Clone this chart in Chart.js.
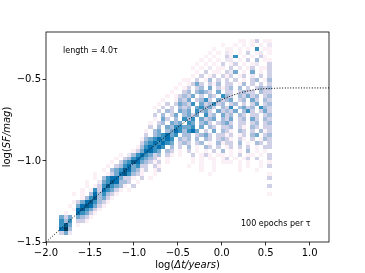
<!DOCTYPE html>
<html>
<head>
<meta charset="utf-8">
<script src="https://cdn.jsdelivr.net/npm/chart.js@4.4.0/dist/chart.umd.min.js"></script>
<style>
	html, body { margin: 0; padding: 0; background: #fff; }
	canvas { display: block; }
</style>
</head>
<body>
<canvas id="mycanvas" width="365" height="273"></canvas>
<script>
// axis ranges and ticks
var xRange = [-2.0, 1.22];
var yRange = [-1.5, -0.205];
var xTicks = [-2.0, -1.5, -1.0, -0.5, 0.0, 0.5, 1.0];
var yTicks = [-1.5, -1.0, -0.5];

// 2d histogram, 50 x 50 bins, rows top -> bottom, 1..9 = colour level, '.' = empty
var binX0 = -1.849, binW = 0.0483;
var binYTop = -0.247, binH = 0.0242;
var counts = [
	".......... .......... .......... .......... ..11.13.11",
	".......... .......... .......... ........1. .1.1.1.1.2",
	".......... .......... .......... ......1..1 1.1.1.6.11",
	".......... .......... .......... .....1.1.2 1.1.3.12.1",
	".......... .......... .......... ....1.1..3 16.1.1.31.",
	".......... .......... .......... ...1.1.1.2 2.1.3.4.11",
	".......... .......... .......... ..1.1.1.3. 13.1.12..3",
	".......... .......... .......... .1.1.2.11. 3.2.13.113",
	".......... .......... .......... ..1.3.11.3 25.1.5.1.3",
	".......... .......... .......... .1.3.13.31 3.13.2.3.3",
	".......... .......... .........1 1.3.14.3.3 .3.1.34.14",
	".......... .......... ........1. 1353.314.3 3.14.3.3.3",
	".......... .......... .......1.1 3.34.5.313 4.4.3.3434",
	".......... .......... ......1..3 4.4543.5.3 3.3433.433",
	".......... .......... .....1.134 35.3.43.64 3.43534.34",
	".......... .......... ....1..143 5.3463.534 5.34.53.43",
	".......... .......... ...1.3.354 36.534634. 34.3.35.34",
	".......... .......... ..1.3.3.43 4.56453.43 6.4534.643",
	".......... .......... ...3.43.54 5.6453.534 35.463.353",
	".......... .......... ..3.4.35.4 535.634.53 4.43.33.34",
	".......... .......... ..1.53.4.6 46.5345.43 5.34.53.43",
	".......... .......... .1.34.545. 65.453.345 3.33.34.34",
	".......... .......... .3.4.54665 56.5.43.33 4.31.43.33",
	".......... .......... 1.45.45764 675.3.5.43 1.43.3.413",
	".......... .......... 3.456756.4 4.3453.331 3.13.45.34",
	".......... .........1 4567676.43 4.4.43.343 1.31.3.143",
	".......... .........3 5676765.34 3.34.1.413 3.4.1.43.3",
	".......... ........14 67676.4.3. 4.1.43.3.1 3.3.3.1.33",
	".......... .......135 7765.43.1. 3.1.1.3.4. 1.1.4.1.1.",
	".......... ....1.2467 6534.31.1. .3.131.11. 1.3.11.1.3",
	".......... ...1.34676 5431.1.... .1.1.11.13 .1.13.3..3",
	".......... ..1.356875 4313.1.... .1.1..1.11 1.1.1..1.1",
	".......... .1.3467563 3.31...... 1..1..1... ..1.1..1.3",
	".......... 1.45687541 3.13...... ...1..1... ..1...1...",
	"........1. .135786431 ..1....... .....1.... .........1",
	"........1. 46775331.3 .1........ .......... .........3",
	"......1..2 5687443.1. .......... .......... ..........",
	"......1.13 686541.3.. .......... .......... .........3",
	".....1.163 76531.1... .......... .......... ..........",
	"...1.1.474 6431...... .......... .......... .........1",
	".....14684 531....... .......... .......... ..........",
	"...1357864 31........ .......... .......... ..........",
	"..1.578753 1......... .......... .......... ..........",
	"...1786531 .......... .......... .......... ..........",
	".1..76531. .......... .......... .......... ..........",
	"535.5431.. .......... .......... .......... ..........",
	"646.331... .......... .......... .......... ..........",
	"685.1..... .......... .......... .......... ..........",
	"794....... .......... .......... .......... ..........",
	"352....... .......... .......... .......... .........."
];

// model structure function (dotted line)
var curveX = [-2.0, -1.8, -1.6, -1.4, -1.2, -1.0, -0.8, -0.6, -0.5, -0.4, -0.3, -0.2, -0.1, 0.0, 0.1, 0.2, 0.3, 0.4, 0.6, 0.8, 1.0, 1.22];
var curveY = [-1.501, -1.402, -1.303, -1.205, -1.108, -1.014, -0.921, -0.833, -0.792, -0.752, -0.715, -0.680, -0.650, -0.623, -0.600, -0.582, -0.568, -0.559, -0.552, -0.550, -0.550, -0.550];

var levels = ['#ffffff', '#fcf0f7', '#ece7f2', '#d0d1e6', '#a6bddb', '#74a9cf', '#3690c0', '#0570b0', '#045a8d', '#023858'];

function fmt(v) {
	return v.toFixed(1).replace('-', '\u2212');
}

var curvePts = [];
for (var k = 0; k < curveX.length; k++) {
	curvePts.push({x: curveX[k], y: curveY[k]});
}

var histPlugin = {
	id: 'hist',
	beforeDatasetsDraw: function(chart) {
		var ctx = chart.ctx, xs = chart.scales.x, ys = chart.scales.y, a = chart.chartArea;
		ctx.save();
		ctx.beginPath();
		ctx.rect(a.left, a.top, a.right - a.left, a.bottom - a.top);
		ctx.clip();
		for (var r = 0; r < counts.length; r++) {
			var row = counts[r].replace(/ /g, '');
			var py0 = Math.round(ys.getPixelForValue(binYTop - r * binH));
			var py1 = Math.round(ys.getPixelForValue(binYTop - (r + 1) * binH));
			for (var i = 0; i < row.length; i++) {
				var c = row.charAt(i);
				if (c === '.') continue;
				var px0 = Math.round(xs.getPixelForValue(binX0 + i * binW));
				var px1 = Math.round(xs.getPixelForValue(binX0 + (i + 1) * binW));
				ctx.fillStyle = levels[+c];
				ctx.fillRect(px0, py0, px1 - px0, py1 - py0);
			}
		}
		ctx.restore();
	}
};

function mixedText(ctx, parts, x, y, size) {
	// parts: [text, italic]
	var w = 0, k;
	for (k = 0; k < parts.length; k++) {
		ctx.font = (parts[k][1] ? 'oblique ' : '') + size + 'px "DejaVu Sans"';
		w += ctx.measureText(parts[k][0]).width;
	}
	var cx = x - w / 2;
	for (k = 0; k < parts.length; k++) {
		ctx.font = (parts[k][1] ? 'oblique ' : '') + size + 'px "DejaVu Sans"';
		ctx.fillText(parts[k][0], cx, y);
		cx += ctx.measureText(parts[k][0]).width;
	}
}

var decoPlugin = {
	id: 'deco',
	afterDraw: function(chart) {
		var ctx = chart.ctx, a = chart.chartArea;
		ctx.save();
		ctx.strokeStyle = '#000';
		ctx.lineWidth = 0.8;
		ctx.strokeRect(a.left, a.top, a.right - a.left, a.bottom - a.top);

		ctx.fillStyle = '#000';
		ctx.textAlign = 'left';
		ctx.textBaseline = 'alphabetic';
		mixedText(ctx, [['log(', false], ['\u0394t/years', true], [')', false]], (a.left + a.right) / 2, 268, 10);

		ctx.translate(10, (a.top + a.bottom) / 2);
		ctx.rotate(-Math.PI / 2);
		mixedText(ctx, [['log(', false], ['SF/mag', true], [')', false]], 0, 0, 10);
		ctx.restore();

		ctx.save();
		ctx.fillStyle = '#000';
		ctx.font = '8px "DejaVu Sans"';
		ctx.textAlign = 'left';
		ctx.fillText('length = 4.0\u03c4', 63, 53);
		ctx.fillText('100 epochs per \u03c4', 241, 226);
		ctx.restore();
	}
};

var ctx = document.getElementById('mycanvas');

var chart = new Chart(ctx, {
	type: 'scatter',
	data: {
		datasets: [{
			data: curvePts,
			showLine: true,
			borderColor: '#000',
			borderWidth: 1,
			borderDash: [1, 1.7],
			pointRadius: 0,
			cubicInterpolationMode: 'monotone',
			fill: false
		}]
	},
	options: {
		responsive: false,
		animation: false,
		devicePixelRatio: 1,
		layout: { padding: { top: 32, right: 36, left: 0, bottom: 0 } },
		plugins: { legend: { display: false }, tooltip: { enabled: false } },
		scales: {
			x: {
				type: 'linear',
				min: xRange[0],
				max: xRange[1],
				afterFit: function(s) { s.height = 31; },
				afterBuildTicks: function(s) { s.ticks = xTicks.map(function(v) { return {value: v}; }); },
				grid: { drawOnChartArea: false, drawTicks: true, tickLength: 3.5, color: '#000', lineWidth: 0.8 },
				border: { display: false },
				ticks: { color: '#000', padding: 2, maxRotation: 0, font: { family: 'DejaVu Sans', size: 10 }, callback: function(v) { return fmt(v); } }
			},
			y: {
				type: 'linear',
				min: yRange[0],
				max: yRange[1],
				afterFit: function(s) { s.width = 46; },
				afterBuildTicks: function(s) { s.ticks = yTicks.map(function(v) { return {value: v}; }); },
				grid: { drawOnChartArea: false, drawTicks: true, tickLength: 3.5, color: '#000', lineWidth: 0.8 },
				border: { display: false },
				ticks: { color: '#000', padding: 1.5, font: { family: 'DejaVu Sans', size: 10 }, callback: function(v) { return fmt(v); } }
			}
		}
	},
	plugins: [histPlugin, decoPlugin]
});
</script>
</body>
</html>
